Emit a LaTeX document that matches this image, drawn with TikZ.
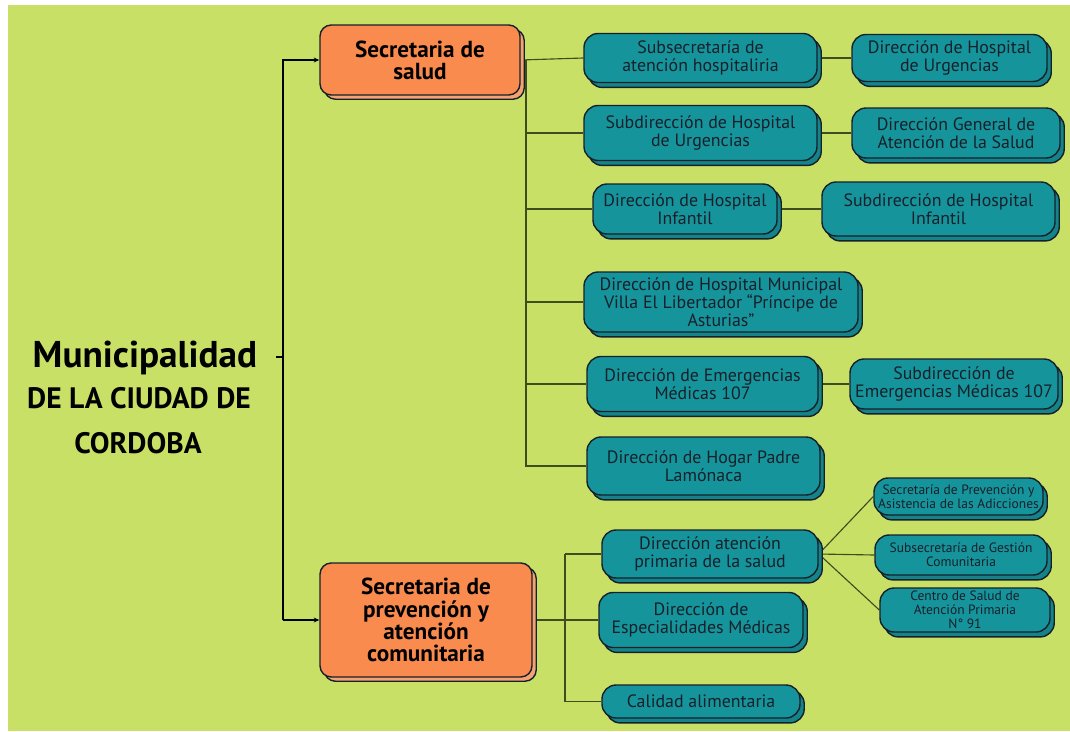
\documentclass[tikz,border=0pt]{standalone}
\usepackage{fontspec}
\setmainfont{PT Sans}
\usetikzlibrary{arrows.meta,shadows}
\definecolor{bg}{HTML}{C9E066}
\definecolor{leaf}{HTML}{3E4D1F}
\definecolor{ink}{HTML}{16202A}
\definecolor{petrol}{HTML}{16949B}
\definecolor{petroldk}{HTML}{14838A}
\definecolor{orng}{HTML}{FA8B4E}
\definecolor{orngsh}{HTML}{F3A274}
\pgfdeclarelayer{back}
\pgfdeclarelayer{wires}
\pgfsetlayers{back,wires,main}
\tikzset{
  link/.style={draw=leaf, line width=0.8pt},
  trunk/.style={draw=black, line width=0.8pt},
  tip/.style={-{Stealth[length=4pt,width=3.5pt]}},
  head/.style={text=black, anchor=base, inner sep=0pt, font=\bfseries\fontsize{21}{21}\selectfont},
  sec/.style 2 args={rounded corners=8pt, draw=ink, line width=1pt, fill=orng, text=black,
    minimum width=#1*0.025cm, minimum height=#2*0.025cm, inner sep=0pt, align=center,
    font=\bfseries\fontsize{16.5}{15.8}\selectfont,
    copy shadow={shadow xshift=3pt, shadow yshift=-3pt, fill=orngsh}},
  unit/.style 2 args={rounded corners=10pt, draw=ink, line width=1pt, fill=petrol, text=ink,
    minimum width=#1*0.025cm, minimum height=#2*0.025cm, inner sep=0pt, align=center,
    font=\fontsize{12.7}{13}\selectfont,
    copy shadow={shadow xshift=3pt, shadow yshift=-3.5pt, fill=petroldk}},
  small/.style={font=\fontsize{9.6}{10}\selectfont},
}
\begin{document}
\begin{tikzpicture}[x=0.025cm,y=-0.025cm]
  \useasboundingbox (0,0) rectangle (1070,731);
  \begin{pgfonlayer}{back}
    \fill[bg] (8,5) rectangle (1070,731);
  \end{pgfonlayer}

  % titulo
  \node[head,font=\bfseries\fontsize{26.5}{26}\selectfont] (muni) at (145,367) {Municipalidad};
  \node[head] (ciudad) at (139,408) {DE LA CIUDAD DE};
  \node[head] (cordoba) at (138,453) {CORDOBA};

  % secretarias
  \node[sec={200}{70}] (salud) at (420,60) {Secretaria de\\salud};
  \node[sec={212}{114}] (prev) at (426,620) {Secretaria de\\prevención y\\atención\\comunitaria};

  % salud
  \node[unit={233}{49}] (t1) at (700.5,58) {Subsecretaría de\\atención hospitaliria};
  \node[unit={195}{47}] (t2) at (949.5,58) {Dirección de Hospital\\de Urgencias};
  \node[unit={233}{55}] (t3) at (700.5,133) {Subdirección de Hospital\\de Urgencias};
  \node[unit={208}{50}] (t4) at (956,133) {Dirección General de\\Atención de la Salud};
  \node[unit={184}{50}] (t5) at (685,209) {Dirección de Hospital\\Infantil};
  \node[unit={233}{54}] (t6) at (938.5,209) {Subdirección de Hospital\\Infantil};
  \node[unit={274}{60}] (t7) at (721,302) {Dirección de Hospital Municipal\\Villa El Libertador “Príncipe de\\Asturias”};
  \node[unit={231}{55}] (t8) at (702.5,384) {Dirección de Emergencias\\Médicas 107};
  \node[unit={208}{50}] (t9) at (954,384) {Subdirección de\\Emergencias Médicas 107};
  \node[unit={233}{58}] (t10) at (703.5,466) {Dirección de Hogar Padre\\Lamónaca};

  % prevencion
  \node[unit={216}{48}] (p1) at (710,554) {Dirección atención\\primaria de la salud};
  \node[unit={204}{55}] (p2) at (701,620) {Dirección de\\Especialidades Médicas};
  \node[unit={198}{33}] (p3) at (701,701.5) {Calidad alimentaria};
  \node[unit={169}{37},small] (q1) at (958.5,496.5) {Secretaría de Prevención y\\Asistencia de las Adicciones};
  \node[unit={172}{40},small] (q2) at (961,555) {Subsecretaría de Gestión\\Comunitaria};
  \node[unit={170}{44},small] (q3) at (965,610) {Centro de Salud de\\Atención Primaria\\N° 91};

  \begin{pgfonlayer}{wires}
    \coordinate (tick) at (276,357);
    \coordinate (spine) at (283,357);
    \coordinate (hubA) at (526,60);
    \coordinate (hubB) at (565,554);
    \draw[trunk] (tick) -- (spine);
    \draw[trunk,tip] (spine |- prev.west) |- (salud.west);
    \draw[trunk,tip] (spine |- prev.west) -- (prev.west);
    % ramas salud
    \draw[link] (salud.east) -- (t1.west);
    \draw[link] (hubA) |- (t10.west);
    \foreach \n in {t3,t5,t7,t8}
      \draw[link] (hubA |- \n.west) -- (\n.west);
    \draw[link] (t1.east) -- (t2.west);
    \draw[link] (t3.east) -- (t4.west);
    \draw[link] (t5.east) -- (t6.west);
    \draw[link] (t8.east) -- (t9.west);
    % ramas prevencion
    \draw[link] (prev.east) -- (prev.east -| hubB);
    \draw[link] (hubB) -- (p1.west);
    \draw[link] (hubB) |- (p3.west);
    \draw[link] (hubB |- p2.west) -- (p2.west);
    \foreach \q in {q1,q2,q3}
      \draw[link] (p1.east) -- (\q.west);
  \end{pgfonlayer}
\end{tikzpicture}
\end{document}
